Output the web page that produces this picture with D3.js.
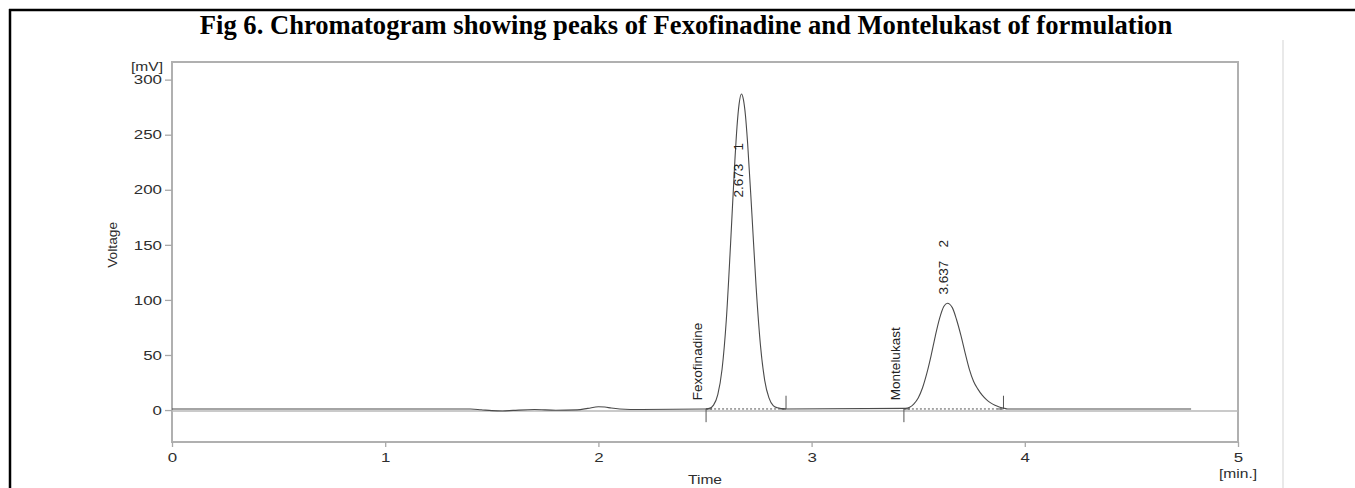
<!DOCTYPE html>
<html>
<head>
<meta charset="utf-8">
<script src="https://cdn.jsdelivr.net/npm/d3@7"></script>
<style>
  html, body { margin: 0; padding: 0; background: #fff; }
  svg { display: block; }
</style>
</head>
<body>
<svg id="chart" width="1355" height="488"></svg>
<script>
// ---------- DATA ----------
const titleText = "Fig 6. Chromatogram showing peaks of Fexofinadine and Montelukast of formulation";
const yTicks = [0, 50, 100, 150, 200, 250, 300];
const xTicks = [0, 1, 2, 3, 4, 5];
const xUnit = "[min.]";
const yUnit = "[mV]";
const xTitle = "Time";
const yTitle = "Voltage";

// chromatogram trace: time (min) and signal (mV)
const traceTime = [
  0.00, 1.40, 1.45, 1.50, 1.55, 1.60, 1.70, 1.80, 1.90, 1.95, 2.00, 2.03, 2.06, 2.10, 2.20, 2.50,
  2.52, 2.54, 2.56, 2.58, 2.60, 2.62, 2.64, 2.65, 2.66, 2.671, 2.68, 2.69, 2.70, 2.72, 2.74, 2.76,
  2.78, 2.80, 2.82, 2.84, 2.86, 2.88, 3.44, 3.46, 3.48, 3.50, 3.52, 3.54, 3.56, 3.58, 3.60, 3.62,
  3.637, 3.66, 3.68, 3.70, 3.72, 3.74, 3.76, 3.78, 3.80, 3.82, 3.84, 3.86, 3.88, 3.90, 3.92, 4.78
];
const traceValue = [
  1.0, 1.0, 0.3, -0.5, -0.8, -0.3, 0.5, -0.2, 0.2, 1.5, 3.0, 2.8, 1.8, 1.0, 0.5, 1.0,
  1.5, 4.5, 14, 37, 82, 151, 226, 257, 278, 287, 282, 267, 242, 178, 111, 59,
  27, 11, 4, 2, 1.3, 1.0, 1.5, 2.6, 5.7, 11, 20, 33, 49, 67, 83, 94,
  97, 93, 82, 68, 52, 37, 26, 19, 13.5, 9.5, 6.5, 4.3, 2.8, 1.8, 1.0, 1.0
];

// integrated peaks
const peakNames = ["Fexofinadine", "Montelukast"];
const peakNumbers = ["1", "2"];
const peakRT = [2.673, 3.637];
const peakApex = [287, 97];
const peakStart = [2.505, 3.433];
const peakEnd = [2.880, 3.900];

// ---------- DRAW ----------
const svg = d3.select("#chart");
const W = 1355, H = 488;
const M = { left: 172, right: 1238, top: 62, bottom: 442 };

const x = d3.scaleLinear().domain([0, 5]).range([M.left, M.right]);
const y = d3.scaleLinear().domain([-29, 316]).range([M.bottom, M.top]);

const axisFont = "'Liberation Sans', Arial, sans-serif";
const textCol = "#2e2e2e";
const SX = 1.3; // horizontal stretch of the instrument's typeface

// page borders
svg.append("line").attr("x1", 9).attr("x2", W).attr("y1", 10).attr("y2", 10)
  .attr("stroke", "#000").attr("stroke-width", 2.5);
svg.append("line").attr("x1", 10).attr("x2", 10).attr("y1", 9).attr("y2", H)
  .attr("stroke", "#000").attr("stroke-width", 2.5);
svg.append("line").attr("x1", 1283).attr("x2", 1283).attr("y1", 40).attr("y2", H)
  .attr("stroke", "#e2e2e2").attr("stroke-width", 1.5);

// title
svg.append("text")
  .attr("x", 686).attr("y", 34)
  .attr("text-anchor", "middle")
  .style("font-family", "'Liberation Serif', 'Times New Roman', serif")
  .style("font-weight", "bold")
  .style("font-size", "26.6px")
  .attr("fill", "#000")
  .text(titleText);

// frame
svg.append("rect")
  .attr("x", M.left).attr("y", M.top)
  .attr("width", M.right - M.left).attr("height", M.bottom - M.top)
  .attr("fill", "none").attr("stroke", "#b0b0b0").attr("stroke-width", 2);

function stretch(sel) {
  sel.each(function () {
    const t = d3.select(this);
    const xx = +t.attr("x") || 0;
    t.attr("x", xx / SX).attr("transform", `scale(${SX},1)`);
  });
}

// y axis
const gy = svg.append("g").attr("transform", `translate(${M.left},0)`)
  .call(d3.axisLeft(y).tickValues(yTicks).tickSize(7).tickPadding(3).tickFormat(d3.format("d")));
gy.select(".domain").remove();
gy.selectAll(".tick line").attr("stroke", "#a8a8a8").attr("stroke-width", 1.3);
gy.selectAll(".tick text").attr("fill", textCol)
  .style("font-family", axisFont).style("font-size", "13px");
stretch(gy.selectAll(".tick text"));

// x axis
const gx = svg.append("g").attr("transform", `translate(0,${M.bottom})`)
  .call(d3.axisBottom(x).tickValues(xTicks).tickSize(5).tickPadding(6).tickFormat(d3.format("d")));
gx.select(".domain").remove();
gx.selectAll(".tick line").attr("stroke", "#a8a8a8").attr("stroke-width", 1.3);
gx.selectAll(".tick text").attr("fill", textCol)
  .style("font-family", axisFont).style("font-size", "13px")
  .attr("x", 0).attr("transform", `scale(${SX},1)`);

// unit & axis titles
function wideText(px, py, str, anchor, size) {
  svg.append("text")
    .attr("transform", `translate(${px},${py}) scale(${SX},1)`)
    .attr("text-anchor", anchor)
    .style("font-family", axisFont).style("font-size", size)
    .attr("fill", textCol).text(str);
}
wideText(163, 71, yUnit, "end", "12px");
wideText(x(5), 478, xUnit, "middle", "12px");
wideText(x(2.5), 484, xTitle, "middle", "12px");
svg.append("text")
  .attr("transform", `translate(117,${y(150)}) rotate(-90) scale(1.15,1)`)
  .attr("text-anchor", "middle")
  .style("font-family", axisFont).style("font-size", "12px")
  .attr("fill", textCol).text(yTitle);

// zero reference line
svg.append("line")
  .attr("x1", M.left).attr("x2", M.right)
  .attr("y1", y(-0.8)).attr("y2", y(-0.8))
  .attr("stroke", "#b8b8b8").attr("stroke-width", 1.5);

// integration baselines and markers
peakStart.forEach((s, i) => {
  const e = peakEnd[i];
  svg.append("line")
    .attr("x1", x(s)).attr("x2", x(e))
    .attr("y1", y(1.0)).attr("y2", y(1.0))
    .attr("stroke", "#555").attr("stroke-width", 1)
    .attr("stroke-dasharray", "2,2");
  svg.append("path")
    .attr("d", `M${x(s)},${y(-11)}V${y(1)}H${x(s) + 6}`)
    .attr("fill", "none").attr("stroke", "#555").attr("stroke-width", 1);
  svg.append("path")
    .attr("d", `M${x(e) - 6},${y(1)}H${x(e)}V${y(13)}`)
    .attr("fill", "none").attr("stroke", "#555").attr("stroke-width", 1);
});

// trace
const trace = traceTime.map((t, i) => [t, traceValue[i]]);
svg.append("path")
  .datum(trace)
  .attr("d", d3.line().x(d => x(d[0])).y(d => y(d[1])).curve(d3.curveMonotoneX))
  .attr("fill", "none").attr("stroke", "#4a4a4a").attr("stroke-width", 1.1);

// peak labels
const peakFont = "'Liberation Sans', Arial, sans-serif";
peakRT.forEach((rt, i) => {
  svg.append("text")
    .attr("transform", `translate(${x(peakStart[i]) - 4},${y(9)}) rotate(-90)`)
    .attr("text-anchor", "start")
    .style("font-family", peakFont).style("font-size", "13.5px")
    .attr("fill", "#222").text(peakNames[i]);
  let startVal = peakApex[i] + 8;
  if (startVal > 200) startVal = 193;
  const lx = x(rt) + 1;
  svg.append("text")
    .attr("transform", `translate(${lx},${y(startVal)}) rotate(-90)`)
    .attr("text-anchor", "start")
    .style("font-family", peakFont).style("font-size", "13.5px")
    .attr("fill", "#222").text(rt.toFixed(3));
  svg.append("text")
    .attr("transform", `translate(${lx},${y(startVal) - 47}) rotate(-90)`)
    .attr("text-anchor", "start")
    .style("font-family", peakFont).style("font-size", "13.5px")
    .attr("fill", "#222").text(peakNumbers[i]);
});
</script>
</body>
</html>
